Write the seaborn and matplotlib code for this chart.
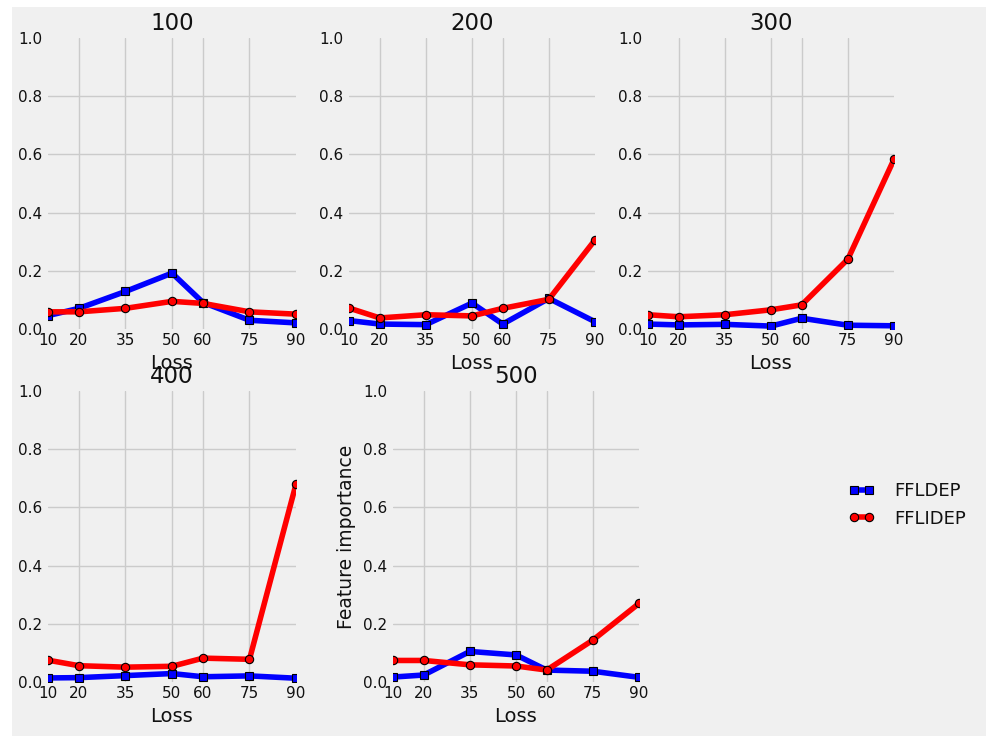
import matplotlib
matplotlib.use("Agg")
import matplotlib.pyplot as plt
import seaborn as sns
import pandas as pd
from matplotlib.patches import Rectangle

loss = [10, 20, 35, 50, 60, 75, 90]
panels = ["100", "200", "300", "400", "500"]
ffldep = {
    "100": [0.046, 0.071, 0.129, 0.192, 0.091, 0.030, 0.021],
    "200": [0.029, 0.017, 0.015, 0.089, 0.017, 0.105, 0.025],
    "300": [0.017, 0.014, 0.016, 0.010, 0.037, 0.013, 0.011],
    "400": [0.014, 0.015, 0.022, 0.029, 0.018, 0.021, 0.013],
    "500": [0.017, 0.024, 0.105, 0.093, 0.041, 0.037, 0.016],
}
fflidep = {
    "100": [0.059, 0.059, 0.071, 0.095, 0.088, 0.059, 0.051],
    "200": [0.072, 0.038, 0.049, 0.045, 0.071, 0.102, 0.306],
    "300": [0.049, 0.042, 0.049, 0.066, 0.083, 0.240, 0.583],
    "400": [0.075, 0.056, 0.051, 0.054, 0.082, 0.078, 0.680],
    "500": [0.074, 0.074, 0.059, 0.055, 0.041, 0.144, 0.270],
}
series_names = ["FFLDEP", "FFLIDEP"]
series_colors = {"FFLDEP": "blue", "FFLIDEP": "red"}
series_markers = {"FFLDEP": "s", "FFLIDEP": "o"}

rows = []
for p in panels:
    for x, a, b in zip(loss, ffldep[p], fflidep[p]):
        rows.append({"panel": p, "Loss": x, "series": "FFLDEP", "value": a})
        rows.append({"panel": p, "Loss": x, "series": "FFLIDEP", "value": b})
df = pd.DataFrame(rows)

sns.set_style("whitegrid")
plt.rcParams['font.family'] = ['DejaVu Sans']
plt.rcParams['legend.numpoints'] = 2

W, H = 987, 736
fig = plt.figure(figsize=(W / 100, H / 100), dpi=100)
fig.patch.set_facecolor("white")
fig.patches.append(Rectangle((12 / W, 0), 1 - 12 / W, 1 - 7 / H, transform=fig.transFigure,
                             facecolor="#f0f0f0", edgecolor="none", zorder=-10))

def pos(left_px, top_px, right_px, bottom_px):
    return [left_px / W, 1 - bottom_px / H, (right_px - left_px) / W, (bottom_px - top_px) / H]

positions = [
    pos(48, 38, 296, 329),
    pos(349, 38, 595, 329),
    pos(648, 38, 894, 329),
    pos(48, 391, 296, 682),
    pos(393, 391, 639, 682),
]

TXT = "#111111"
handles = None
for p, rect in zip(panels, positions):
    ax = fig.add_axes(rect)
    ax.set_facecolor("#f0f0f0")
    sub = df[df["panel"] == p]
    for name in series_names:
        s = sub[sub["series"] == name]
        sns.lineplot(data=s, x="Loss", y="value", ax=ax, color=series_colors[name],
                     marker=series_markers[name], markersize=6, markeredgecolor="black",
                     markeredgewidth=0.8, linewidth=4, label=name, legend=False)
    for ln in ax.get_lines():
        ln.set_clip_on(True)
        ln.set_clip_path(ax.patch)
    ax.set_xlim(10, 90)
    ax.set_ylim(0, 1)
    ax.set_xticks(loss)
    ax.set_yticks([0.0, 0.2, 0.4, 0.6, 0.8, 1.0])
    ax.set_yticklabels(["0.0", "0.2", "0.4", "0.6", "0.8", "1.0"])
    ax.tick_params(axis="both", labelsize=11, length=0, colors=TXT)
    ax.tick_params(axis="x", pad=3)
    ax.tick_params(axis="y", pad=4)
    ax.grid(True, color="#cbcbcb", linewidth=1)
    xg = ax.get_xgridlines()
    xg[0].set_visible(False)
    xg[-1].set_visible(False)
    yg = ax.get_ygridlines()
    yg[0].set_visible(False)
    yg[-1].set_visible(False)
    for sp in ax.spines.values():
        sp.set_visible(False)
    ax.set_title(p, fontsize=16.5, pad=6, color=TXT)
    ax.set_xlabel("Loss", fontsize=14, labelpad=4, color=TXT)
    if p == "500":
        ax.set_ylabel("Feature importance", fontsize=13.5, labelpad=5, color=TXT)
    else:
        ax.set_ylabel("")
    handles, labels = ax.get_legend_handles_labels()

fig.legend(handles, labels, loc="center left", bbox_to_anchor=(832 / W, 1 - 505 / H),
           frameon=False, fontsize=13, handlelength=1.45, handletextpad=1.1,
           labelspacing=0.5, labelcolor=TXT)

fig.savefig("out.png", dpi=100, facecolor=fig.get_facecolor())
